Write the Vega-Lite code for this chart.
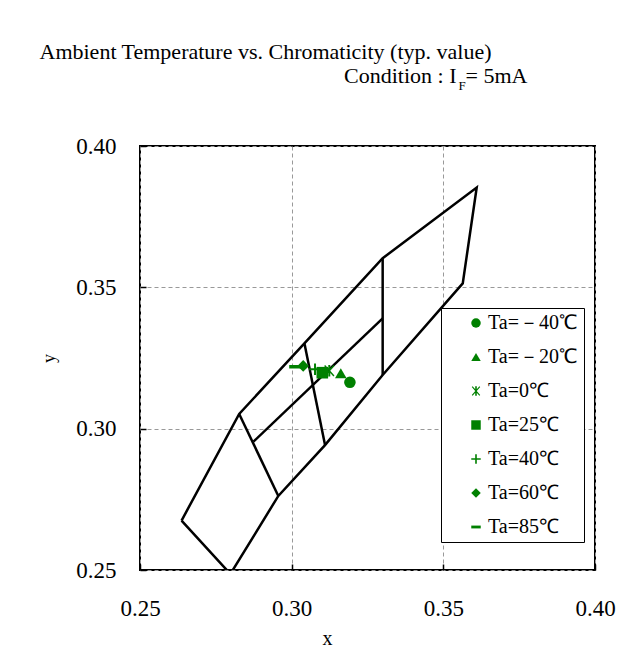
{
  "$schema": "https://vega.github.io/schema/vega-lite/v6.json",
  "width": 455,
  "height": 424,
  "autosize": {"type": "none"},
  "padding": {"left": 140, "top": 146, "right": 40, "bottom": 96},
  "background": "white",
  "title": {
    "text": "Ambient Temperature vs. Chromaticity (typ. value)",
    "font": "Liberation Serif",
    "fontSize": 22,
    "fontWeight": "normal",
    "color": "black",
    "anchor": "middle",
    "frame": "group",
    "dx": -102,
    "offset": 0
  },
  "config": {
    "view": {"stroke": "black", "strokeWidth": 2},
    "axis": {
      "labelFont": "Liberation Serif",
      "titleFont": "Liberation Serif",
      "labelColor": "black",
      "titleColor": "black",
      "titleFontWeight": "normal",
      "labelFlush": false
    }
  },
  "resolve": {"axis": {"x": "independent", "y": "independent"}},
  "layer": [
    {
      "data": {
        "values": [
          {"seg": "outer", "ord": 0, "x": 0.2637, "y": 0.2675},
          {"seg": "outer", "ord": 1, "x": 0.2827, "y": 0.3052},
          {"seg": "outer", "ord": 2, "x": 0.3042, "y": 0.3302},
          {"seg": "outer", "ord": 3, "x": 0.3300, "y": 0.3603},
          {"seg": "outer", "ord": 4, "x": 0.3610, "y": 0.3853},
          {"seg": "outer", "ord": 5, "x": 0.3564, "y": 0.3514},
          {"seg": "outer", "ord": 6, "x": 0.3300, "y": 0.3190},
          {"seg": "outer", "ord": 7, "x": 0.3110, "y": 0.2942},
          {"seg": "outer", "ord": 8, "x": 0.2956, "y": 0.2762},
          {"seg": "outer", "ord": 9, "x": 0.2798, "y": 0.2486},
          {"seg": "outer", "ord": 10, "x": 0.2637, "y": 0.2675}
        ]
      },
      "mark": {"type": "line", "color": "black", "strokeWidth": 2.5, "clip": true},
      "encoding": {
        "x": {
          "field": "x", "type": "quantitative",
          "scale": {"domain": [0.25, 0.40], "nice": false, "zero": false},
          "axis": {
            "orient": "bottom",
            "values": [0.25, 0.30, 0.35, 0.40],
            "format": ".2f",
            "labelFont": "Liberation Serif",
            "labelFontSize": 23,
            "labelPadding": 33,
            "labelFlush": false,
            "tickSize": -6,
            "tickColor": "black",
            "tickWidth": 1.5,
            "domain": false,
            "grid": true,
            "gridColor": "#999999",
            "gridDash": [4, 3],
            "gridWidth": 1,
            "title": "x",
            "titleFont": "Liberation Serif",
            "titleFontSize": 20,
            "titleX": 187,
            "titleY": 68,
            "titleAlign": "center",
            "titleBaseline": "middle"
          }
        },
        "y": {
          "field": "y", "type": "quantitative",
          "scale": {"domain": [0.25, 0.40], "nice": false, "zero": false},
          "axis": {
            "orient": "left",
            "values": [0.25, 0.30, 0.35, 0.40],
            "format": ".2f",
            "labelFont": "Liberation Serif",
            "labelFontSize": 23,
            "labelPadding": 30,
            "labelFlush": false,
            "tickSize": -6,
            "tickColor": "black",
            "tickWidth": 1.5,
            "domain": false,
            "grid": true,
            "gridColor": "#999999",
            "gridDash": [4, 3],
            "gridWidth": 1,
            "title": "y",
            "titleFont": "Liberation Serif",
            "titleFontSize": 18,
            "titleX": -91,
            "titleY": 212,
            "titleAlign": "center",
            "titleBaseline": "middle"
          }
        },
        "detail": {"field": "seg"},
        "order": {"field": "ord"}
      }
    },
    {
      "data": {
        "values": [
          {"seg": "a", "ord": 0, "x": 0.2827, "y": 0.3052},
          {"seg": "a", "ord": 1, "x": 0.2956, "y": 0.2762},
          {"seg": "b", "ord": 0, "x": 0.2874, "y": 0.2954},
          {"seg": "b", "ord": 1, "x": 0.3300, "y": 0.3390},
          {"seg": "c", "ord": 0, "x": 0.3042, "y": 0.3302},
          {"seg": "c", "ord": 1, "x": 0.3110, "y": 0.2942},
          {"seg": "d", "ord": 0, "x": 0.3300, "y": 0.3603},
          {"seg": "d", "ord": 1, "x": 0.3300, "y": 0.3190}
        ]
      },
      "mark": {"type": "line", "color": "black", "strokeWidth": 2.5, "clip": true},
      "encoding": {
        "x": {
          "field": "x", "type": "quantitative",
          "scale": {"domain": [0.25, 0.40], "nice": false, "zero": false},
          "axis": {
            "orient": "top", "offset": 0,
            "labels": false, "ticks": false, "domain": false, "grid": false,
            "title": "Condition : I",
            "titleFont": "Liberation Serif",
            "titleFontSize": 22,
            "titleAlign": "right",
            "titleBaseline": "alphabetic",
            "titleX": 316,
            "titleY": -64
          }
        },
        "y": {
          "field": "y", "type": "quantitative",
          "scale": {"domain": [0.25, 0.40], "nice": false, "zero": false},
          "axis": {
            "orient": "right", "offset": 0,
            "labels": false, "ticks": false, "domain": false, "grid": false,
            "title": "F",
            "titleFont": "Liberation Serif",
            "titleAngle": 0,
            "titleFontSize": 13,
            "titleAlign": "left",
            "titleBaseline": "alphabetic",
            "titleX": -137,
            "titleY": -57
          }
        },
        "detail": {"field": "seg"},
        "order": {"field": "ord"}
      }
    },
    {
      "data": {
        "values": [
          {"Ta": "Ta=－40℃", "x": 0.3192, "y": 0.3164},
          {"Ta": "Ta=－20℃", "x": 0.3162, "y": 0.3196},
          {"Ta": "Ta=0℃", "x": 0.3124, "y": 0.3205},
          {"Ta": "Ta=25℃", "x": 0.3101, "y": 0.3198},
          {"Ta": "Ta=40℃", "x": 0.3077, "y": 0.3210},
          {"Ta": "Ta=60℃", "x": 0.3038, "y": 0.3222},
          {"Ta": "Ta=85℃", "x": 0.3011, "y": 0.3219}
        ]
      },
      "mark": {"type": "point", "filled": true, "size": 135, "color": "#008000", "opacity": 1},
      "encoding": {
        "x": {
          "field": "x", "type": "quantitative",
          "scale": {"domain": [0.25, 0.40], "nice": false, "zero": false},
          "axis": {
            "orient": "top", "offset": 0,
            "labels": false, "ticks": false, "domain": false, "grid": false,
            "title": "= 5mA",
            "titleFont": "Liberation Serif",
            "titleFontSize": 22,
            "titleAlign": "left",
            "titleBaseline": "alphabetic",
            "titleX": 325,
            "titleY": -64
          }
        },
        "y": {
          "field": "y", "type": "quantitative",
          "scale": {"domain": [0.25, 0.40], "nice": false, "zero": false},
          "axis": null
        },
        "shape": {
          "field": "Ta", "type": "nominal",
          "scale": {
            "domain": ["Ta=－40℃", "Ta=－20℃", "Ta=0℃", "Ta=25℃", "Ta=40℃", "Ta=60℃", "Ta=85℃"],
            "range": [
              "circle",
              "triangle-up",
              "M-0.17,-1L0.17,-1L0.17,1L-0.17,1ZM-0.71,-0.98L0.89,0.82L0.71,0.98L-0.89,-0.82ZM-0.89,0.82L0.71,-0.98L0.89,-0.82L-0.71,0.98Z",
              "square",
              "M-1,-0.17L1,-0.17L1,0.17L-1,0.17ZM-0.17,-1L0.17,-1L0.17,1L-0.17,1Z",
              "diamond",
              "M-1,-0.3L1,-0.3L1,0.3L-1,0.3Z"
            ]
          },
          "legend": {
            "title": null,
            "orient": "none",
            "legendX": 301,
            "legendY": 162,
            "strokeColor": "black",
            "fillColor": "white",
            "padding": 5,
            "rowPadding": 14,
            "labelFont": "Liberation Serif",
            "labelFontSize": 20,
            "labelColor": "black",
            "labelExpr": "datum.label + '\u00a0\u00a0\u00a0\u00a0'",
            "symbolSize": 90,
            "symbolOffset": 20,
            "labelOffset": 2,
            "symbolFillColor": "#008000",
            "symbolStrokeColor": "#008000",
            "symbolStrokeWidth": 0,
            "symbolOpacity": 1
          }
        }
      }
    }
  ]
}
